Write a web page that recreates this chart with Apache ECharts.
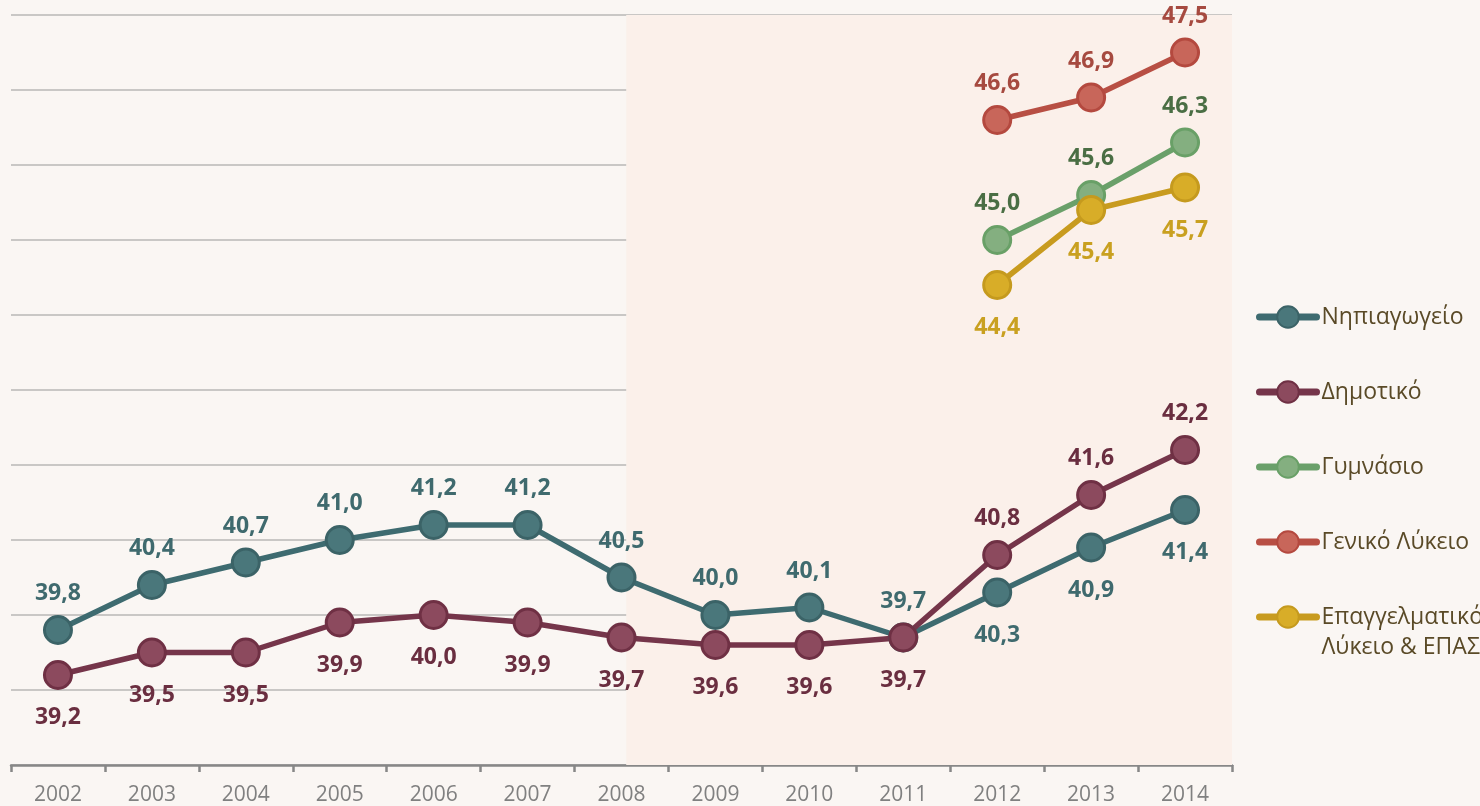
<!DOCTYPE html>
<html>
<head>
<meta charset="utf-8">
<script src="https://cdn.jsdelivr.net/npm/echarts@6/dist/echarts.min.js"></script>
<style>
html,body{margin:0;padding:0;background:#faf6f3;}
#main{width:1480px;height:806px;}
</style>
</head>
<body>
<div id="main"></div>
<script>
var years = ['2002','2003','2004','2005','2006','2007','2008','2009','2010','2011','2012','2013','2014'];
var nipiagogeio = [39.8, 40.4, 40.7, 41.0, 41.2, 41.2, 40.5, 40.0, 40.1, 39.7, 40.3, 40.9, 41.4];
var dimotiko    = [39.2, 39.5, 39.5, 39.9, 40.0, 39.9, 39.7, 39.6, 39.6, 39.7, 40.8, 41.6, 42.2];
var gymnasio    = [null, null, null, null, null, null, null, null, null, null, 45.0, 45.6, 46.3];
var genikoLykeio= [null, null, null, null, null, null, null, null, null, null, 46.6, 46.9, 47.5];
var epal        = [null, null, null, null, null, null, null, null, null, null, 44.4, 45.4, 45.7];
var seriesNames = ['Νηπιαγωγείο','Δημοτικό','Γυμνάσιο','Γενικό Λύκειο','Επαγγελματικό Λύκειο & ΕΠΑΣ'];
var shadeFrom = '2008';

var FONT = '"Open Sans", "Noto Sans", sans-serif';
var fmt = function (p) { return p.value == null ? '' : p.value.toFixed(1).replace('.', ','); };

function mk(name, data, line, fill, border, labelColor, posFn) {
  return {
    name: name, type: 'line', data: data.map(function (v, i) {
      if (v == null) return null;
      var pos = posFn(i);
      return { value: v, label: { position: pos, distance: pos === 'top' ? 10 : 16 } };
    }),
    symbol: 'circle', symbolSize: 27, connectNulls: false,
    lineStyle: { color: line, width: 5.5 },
    itemStyle: { color: fill, borderColor: border, borderWidth: 3 },
    label: { show: true, formatter: fmt, color: labelColor,
      fontFamily: FONT, fontWeight: 'bold', fontSize: 23 },
    emphasis: { disabled: true }, z: 3
  };
}

var legendBase = {
  orient: 'vertical', left: 1256, itemGap: 45, padding: 0,
  itemWidth: 57, itemHeight: 27,
  lineStyle: { width: 7, cap: 'round' },
  textStyle: { color: '#5a4a27', fontSize: 23, fontFamily: FONT, lineHeight: 30 }
};

var shadeIdx = years.indexOf(shadeFrom);
var chart = echarts.init(document.getElementById('main'));
chart.setOption({
  backgroundColor: '#faf6f3',
  animation: false,
  grid: { left: 11, right: 248, top: 15, bottom: 41 },
  xAxis: [{
    type: 'category', data: years, boundaryGap: true,
    axisLine: { lineStyle: { color: '#878787', width: 2.5 } },
    axisTick: { show: true, length: 7, lineStyle: { color: '#878787', width: 2.5 } },
    axisLabel: { color: '#808080', fontSize: 21, fontFamily: FONT, margin: 20 },
    splitLine: { show: false }
  }, {
    type: 'value', min: -0.5, max: years.length - 0.5, show: false
  }],
  yAxis: {
    type: 'value', min: 38, max: 48, interval: 1,
    axisLine: { show: false }, axisTick: { show: false }, axisLabel: { show: false },
    splitLine: { lineStyle: { color: '#c9c7c5', width: 2 } }
  },
  legend: [
    Object.assign({}, legendBase, { top: 302, data: seriesNames.slice(0, 4) }),
    Object.assign({}, legendBase, { top: 572, data: [seriesNames[4]],
      formatter: function () { return ' \nΕπαγγελματικό\nΛύκειο & ΕΠΑΣ'; } })
  ],
  series: [
    {
      type: 'line', xAxisIndex: 1, data: [], silent: true,
      markArea: { silent: true, itemStyle: { color: '#fbf0ea' },
        data: [[{ xAxis: shadeIdx + 0.05 }, { xAxis: years.length - 0.5 }]] }
    },
    mk(seriesNames[0], nipiagogeio, '#3e6b70', '#4a777b', '#3b6367', '#3f6a6e',
       function (i) { return i >= 10 ? 'bottom' : 'top'; }),
    mk(seriesNames[1], dimotiko, '#75354a', '#8c4a5e', '#6f3044', '#6a2e40',
       function (i) { return i >= 10 ? 'top' : 'bottom'; }),
    mk(seriesNames[2], gymnasio, '#6aa06a', '#84af80', '#69a067', '#4a6e44',
       function (i) { return 'top'; }),
    mk(seriesNames[3], genikoLykeio, '#b84f44', '#c8665a', '#b4493f', '#a64a40',
       function (i) { return 'top'; }),
    mk(seriesNames[4], epal, '#c89b1f', '#d8ad28', '#c59a1e', '#c9a020',
       function (i) { return 'bottom'; })
  ]
});
</script>
</body>
</html>
